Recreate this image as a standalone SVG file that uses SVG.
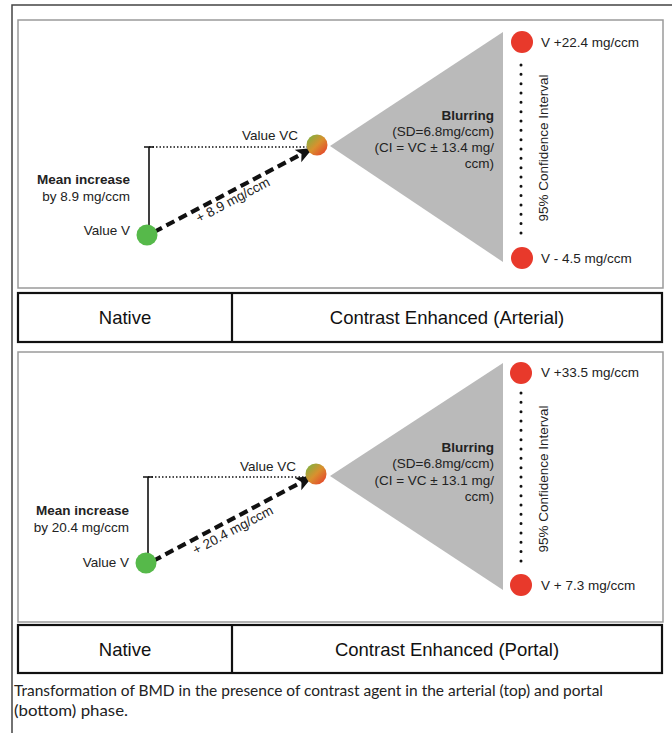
<svg xmlns="http://www.w3.org/2000/svg" width="672" height="733" viewBox="0 0 672 733">
<style>
  .t{font-family:"Liberation Sans",Arial,sans-serif;font-size:13.5px;fill:#222}
  .b{font-weight:bold}
  .end{text-anchor:end}
  .mid{text-anchor:middle}
  .tab{font-family:"Liberation Sans",Arial,sans-serif;font-size:18.5px;fill:#111;text-anchor:middle}
  .cap{font-family:Lato,"Open Sans",sans-serif;font-size:15px;fill:#222}
  .panel{fill:#fff;stroke:#9a9a9a;stroke-width:1.5}
  .row{fill:#fff;stroke:#111;stroke-width:2.2}
  .green{fill:#56b94a}
  .red{fill:#e8392b}
  .tri{fill:#bababa}
  .bar{stroke:#111;stroke-width:1.6;fill:none}
  .dotted{stroke:#111;stroke-width:1.4;stroke-dasharray:1.5 2;fill:none}
  .ci{stroke:#111;stroke-width:3;stroke-linecap:round;stroke-dasharray:0 9.33;fill:none}
  .arrow{stroke:#111;stroke-width:4.2;stroke-dasharray:9 5;fill:none}
</style>
<defs>
  <linearGradient id="vc" x1="0" y1="0" x2="1" y2="1">
    <stop offset="0" stop-color="#6fb844"/>
    <stop offset="0.5" stop-color="#d9902e"/>
    <stop offset="1" stop-color="#e8352b"/>
  </linearGradient>
  <marker id="ah" markerUnits="userSpaceOnUse" markerWidth="20" markerHeight="16" refX="17" refY="7" orient="auto">
    <path d="M0,0 L17,7 L0,14 L4,7 Z" fill="#111"/>
  </marker>
</defs>

<rect width="672" height="733" fill="#fff"/>
<path d="M12,733 V5 H672" fill="none" stroke="#444" stroke-width="1.5"/>

<!-- top panel -->
<g id="panel-top">
  <rect class="panel" x="18" y="20" width="645" height="268"/>
</g>
<g id="blur-top">
  <polygon class="tri" points="330,146 503,32 503,262"/>
  <text class="t b end" x="494" y="120">Blurring</text>
  <text class="t end" x="494" y="136">(SD=6.8mg/ccm)</text>
  <text class="t end" x="494" y="152">(CI = VC ± 13.4 mg/</text>
  <text class="t end" x="494" y="168">ccm)</text>
</g>
<g id="connectors-top">
  <path class="bar" d="M149,147 V231 M144,147 H154 M144,231 H154"/>
  <path class="dotted" d="M149,147 H307"/>
  <path class="ci" d="M521,65 V233"/>
  <path class="arrow" d="M154,232 L313,148" marker-end="url(#ah)"/>
  <text class="t mid" x="235" y="204" transform="rotate(-28 235 204)">+ 8.9 mg/ccm</text>
</g>
<g id="v-top">
  <circle class="green" cx="147" cy="235" r="10.5"/>
  <text class="t end" x="130" y="235">Value V</text>
  <text class="t b end" x="130" y="184">Mean increase</text>
  <text class="t end" x="130" y="201">by 8.9 mg/ccm</text>
</g>
<g id="vc-top">
  <circle cx="317" cy="145" r="10.5" fill="url(#vc)"/>
  <text class="t end" x="298" y="140">Value VC</text>
</g>
<g id="ci-top">
  <circle class="red" cx="522" cy="42" r="11"/>
  <text class="t" x="541" y="47">V +22.4 mg/ccm</text>
  <circle class="red" cx="522" cy="258" r="11"/>
  <text class="t" x="541" y="263">V - 4.5 mg/ccm</text>
  <text class="t mid" x="548" y="148" transform="rotate(-90 548 148)">95% Confidence Interval</text>
</g>
<g id="table-top">
  <rect class="row" x="18" y="293" width="644" height="49"/>
  <line x1="232" y1="293" x2="232" y2="342" stroke="#111" stroke-width="2.2"/>
  <text class="tab" x="125" y="324">Native</text>
  <text class="tab" x="447" y="324">Contrast Enhanced (Arterial)</text>
</g>

<!-- bottom panel -->
<g id="panel-bottom">
  <rect class="panel" x="18" y="352" width="645" height="270"/>
</g>
<g id="blur-bottom">
  <polygon class="tri" points="330,476 503,363 503,590"/>
  <text class="t b end" x="494" y="452">Blurring</text>
  <text class="t end" x="494" y="468">(SD=6.8mg/ccm)</text>
  <text class="t end" x="494" y="485">(CI = VC ± 13.1 mg/</text>
  <text class="t end" x="494" y="501">ccm)</text>
</g>
<g id="connectors-bottom">
  <path class="bar" d="M148,477 V561 M143,477 H153 M143,561 H153"/>
  <path class="dotted" d="M148,477 H306"/>
  <path class="ci" d="M521,393 V563"/>
  <path class="arrow" d="M153,561 L313,476" marker-end="url(#ah)"/>
  <text class="t mid" x="235" y="534" transform="rotate(-28 235 534)">+ 20.4 mg/ccm</text>
</g>
<g id="v-bottom">
  <circle class="green" cx="146" cy="563" r="10.5"/>
  <text class="t end" x="129" y="567">Value V</text>
  <text class="t b end" x="129" y="515">Mean increase</text>
  <text class="t end" x="129" y="532">by 20.4 mg/ccm</text>
</g>
<g id="vc-bottom">
  <circle cx="316" cy="474" r="10.5" fill="url(#vc)"/>
  <text class="t end" x="296" y="471">Value VC</text>
</g>
<g id="ci-bottom">
  <circle class="red" cx="521" cy="373" r="11"/>
  <text class="t" x="541" y="377">V +33.5 mg/ccm</text>
  <circle class="red" cx="521" cy="585" r="11"/>
  <text class="t" x="541" y="590">V + 7.3 mg/ccm</text>
  <text class="t mid" x="548" y="479" transform="rotate(-90 548 479)">95% Confidence Interval</text>
</g>
<g id="table-bottom">
  <rect class="row" x="18" y="625" width="644" height="48"/>
  <line x1="232" y1="625" x2="232" y2="673" stroke="#111" stroke-width="2.2"/>
  <text class="tab" x="125" y="656">Native</text>
  <text class="tab" x="447" y="656">Contrast Enhanced (Portal)</text>
</g>

<g id="caption">
  <text class="cap" x="14" y="696" textLength="589" lengthAdjust="spacingAndGlyphs">Transformation of BMD in the presence of contrast agent in the arterial (top) and portal</text>
  <text class="cap" x="14" y="716" textLength="114" lengthAdjust="spacingAndGlyphs">(bottom) phase.</text>
</g>
</svg>
